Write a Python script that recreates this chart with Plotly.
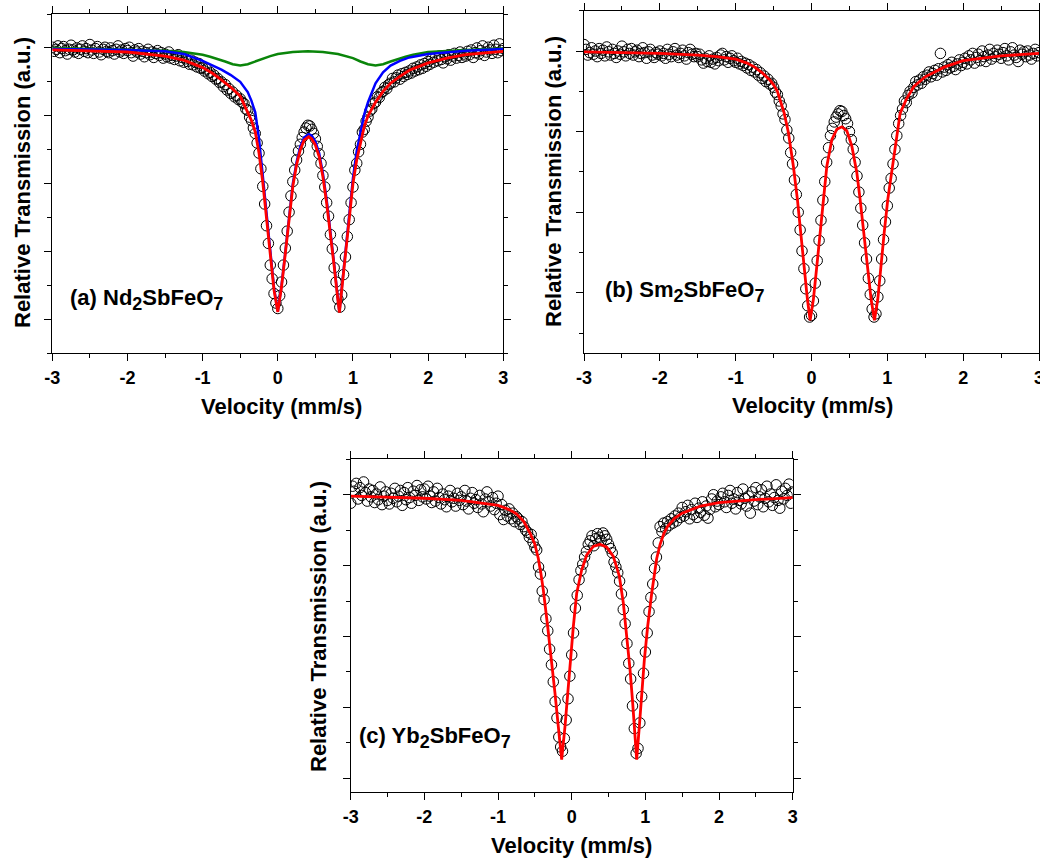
import numpy as np
import plotly.graph_objects as go

# ---------------- data (relative transmission, %) ----------------
velocity_step = 0.025   # mm/s per channel, first channel at -3 mm/s

nd_T = [
    100.01, 99.95, 99.98, 100.03, 99.93, 99.99, 100.02, 99.96, 99.91, 99.98, 100.04, 99.97, 99.94, 100.00, 99.92, 99.98, 100.03, 99.95, 99.99, 99.93,
    100.05, 99.97, 99.92, 99.99, 100.02, 99.94, 99.90, 99.98, 100.01, 99.95, 99.93, 100.00, 99.96, 99.91, 99.98, 100.03, 99.94, 99.97, 99.92, 99.99,
    99.96, 100.01, 99.93, 99.88, 99.97, 99.94, 99.99, 99.91, 99.95, 99.87, 99.93, 99.98, 99.90, 99.94, 99.86, 99.92, 99.96, 99.89, 99.93, 99.85,
    99.91, 99.87, 99.94, 99.85, 99.89, 99.83, 99.88, 99.90, 99.81, 99.86, 99.79, 99.84, 99.80, 99.76, 99.82, 99.75, 99.79, 99.72, 99.77, 99.70,
    99.71, 99.66, 99.69, 99.62, 99.64, 99.58, 99.60, 99.54, 99.55, 99.49, 99.50, 99.43, 99.46, 99.38, 99.40, 99.33, 99.35, 99.28, 99.30, 99.24,
    99.25, 99.20, 99.18, 99.10, 99.08, 98.98, 98.93, 98.82, 98.74, 98.60, 98.45, 98.22, 97.96, 97.70, 97.38, 97.12, 96.80, 96.60, 96.38, 96.24,
    96.16, 96.35, 96.55, 96.80, 97.05, 97.30, 97.58, 97.82, 98.03, 98.20, 98.35, 98.48, 98.58, 98.68, 98.76, 98.82, 98.86, 98.85, 98.80, 98.74,
    98.66, 98.55, 98.44, 98.30, 98.12, 97.95, 97.72, 97.52, 97.25, 97.04, 96.76, 96.55, 96.30, 96.18, 96.36, 96.66, 96.92, 97.22, 97.47, 97.72,
    97.95, 98.20, 98.30, 98.47, 98.58, 98.76, 98.80, 98.92, 98.98, 99.07, 99.10, 99.18, 99.20, 99.28, 99.27, 99.34, 99.36, 99.42, 99.40, 99.46,
    99.48, 99.55, 99.50, 99.56, 99.60, 99.54, 99.62, 99.58, 99.64, 99.61, 99.66, 99.63, 99.70, 99.66, 99.72, 99.68, 99.75, 99.70, 99.77, 99.73,
    99.80, 99.76, 99.84, 99.79, 99.86, 99.81, 99.88, 99.83, 99.78, 99.87, 99.84, 99.90, 99.82, 99.88, 99.92, 99.85, 99.89, 99.94, 99.86, 99.91,
    99.88, 99.95, 99.90, 99.97, 99.86, 99.93, 100.00, 99.91, 99.96, 100.03, 99.89, 99.94, 100.01, 99.97, 99.92, 100.04, 99.98, 99.93, 100.06, 99.96, 99.99,
]

sm_T = [
    100.08, 100.02, 99.95, 99.98, 100.04, 99.96, 100.00, 99.93, 100.03, 99.97, 100.01, 99.94, 100.05, 99.99, 99.95, 100.02, 99.97, 99.92, 100.00, 99.96,
    100.06, 99.99, 99.94, 100.02, 99.97, 100.03, 99.95, 99.99, 100.01, 99.93, 99.97, 100.04, 99.98, 99.91, 99.99, 100.02, 99.95, 99.92, 99.98, 99.96,
    100.00, 99.94, 99.97, 99.91, 100.02, 99.96, 99.93, 99.99, 100.03, 99.95, 99.92, 99.97, 100.01, 99.94, 99.90, 99.98, 100.02, 99.96, 99.93, 99.97,
    99.93, 99.96, 99.89, 99.85, 99.91, 99.87, 99.94, 99.86, 99.90, 99.84, 99.92, 99.88, 99.95, 99.97, 99.89, 99.93, 99.86, 99.91, 99.94, 99.88,
    99.86, 99.91, 99.84, 99.87, 99.82, 99.85, 99.79, 99.83, 99.76, 99.80, 99.74, 99.77, 99.70, 99.73, 99.66, 99.69, 99.62, 99.65, 99.59, 99.60,
    99.55, 99.49, 99.46, 99.38, 99.32, 99.22, 99.15, 99.02, 98.92, 98.74, 98.60, 98.40, 98.22, 98.00, 97.78, 97.52, 97.30, 97.05, 96.84, 96.70,
    96.72, 96.90, 97.12, 97.40, 97.65, 97.90, 98.15, 98.38, 98.62, 98.80, 98.95, 99.04, 99.12, 99.18, 99.22, 99.26, 99.25, 99.20, 99.16, 99.10,
    99.00, 98.90, 98.78, 98.62, 98.45, 98.25, 98.05, 97.84, 97.62, 97.42, 97.18, 96.98, 96.80, 96.70, 96.74, 96.95, 97.15, 97.42, 97.66, 97.88,
    98.08, 98.30, 98.42, 98.60, 98.78, 98.95, 99.10, 99.20, 99.28, 99.38, 99.36, 99.45, 99.50, 99.48, 99.55, 99.62, 99.58, 99.64, 99.60, 99.68,
    99.65, 99.70, 99.74, 99.68, 99.72, 99.76, 99.70, 99.78, 99.97, 99.74, 99.80, 99.76, 99.83, 99.79, 99.86, 99.81, 99.77, 99.84, 99.89, 99.82,
    99.86, 99.91, 99.84, 99.94, 99.89, 99.97, 99.85, 99.92, 99.96, 99.88, 100.00, 99.93, 99.87, 99.95, 100.02, 99.90, 99.97, 99.93, 100.01, 99.96,
    99.91, 99.98, 100.03, 99.94, 99.89, 99.99, 100.04, 99.95, 99.92, 99.87, 100.01, 99.96, 99.99, 99.93, 100.00, 99.95, 99.90, 99.97, 100.02, 99.94, 99.98,
]

yb_T = [
    99.88, 100.12, 100.05, 100.16, 99.94, 100.10, 99.99, 100.18, 100.03, 99.91, 100.08, 99.97, 100.06, 99.89, 100.01, 99.93, 100.11, 99.86, 99.98, 100.04,
    99.92, 99.87, 100.02, 99.95, 100.09, 99.90, 99.98, 100.06, 99.85, 100.03, 99.93, 100.10, 99.96, 99.88, 100.05, 99.99, 100.13, 99.92, 100.07, 99.97,
    100.08, 99.94, 100.12, 99.98, 99.89, 100.04, 99.91, 100.09, 99.96, 99.87, 100.01, 99.93, 99.83, 99.98, 100.06, 99.90, 99.95, 99.84, 100.02, 99.92,
    99.97, 99.86, 100.06, 99.91, 99.80, 99.95, 100.03, 99.88, 99.93, 99.82, 99.99, 99.87, 99.76, 99.94, 100.04, 99.90, 99.84, 99.96, 99.79, 99.88,
    99.98, 99.72, 99.86, 99.65, 99.78, 99.70, 99.80, 99.66, 99.74, 99.62, 99.69, 99.66, 99.58, 99.62, 99.55, 99.50, 99.47, 99.40, 99.44, 99.33,
    99.26, 99.22, 98.98, 98.88, 98.64, 98.52, 98.25, 98.08, 97.82, 97.60, 97.36, 97.08, 96.85, 96.58, 96.44, 96.38, 96.56, 96.82, 97.12, 97.44,
    97.74, 98.05, 98.40, 98.58, 98.80, 98.93, 99.02, 99.12, 99.20, 99.30, 99.35, 99.42, 99.28, 99.38, 99.45, 99.40, 99.35, 99.46, 99.42, 99.37,
    99.30, 99.24, 99.18, 99.05, 98.98, 98.90, 98.78, 98.60, 98.38, 98.18, 97.90, 97.62, 97.40, 97.02, 96.70, 96.35, 96.42, 96.78, 97.15, 97.48,
    97.78, 98.05, 98.35, 98.55, 98.74, 98.96, 99.12, 99.32, 99.55, 99.48, 99.60, 99.52, 99.62, 99.57, 99.66, 99.60, 99.70, 99.63, 99.74, 99.68,
    99.82, 99.70, 99.76, 99.85, 99.66, 99.79, 99.72, 99.88, 99.68, 99.81, 99.75, 99.90, 99.71, 99.84, 99.67, 99.79, 99.94, 100.00, 99.83, 99.91,
    99.86, 99.97, 100.02, 99.90, 99.82, 99.99, 100.06, 99.88, 99.94, 99.80, 100.03, 99.92, 99.87, 100.08, 99.95, 99.84, 99.98, 99.74, 100.04, 99.91,
    100.10, 99.86, 99.97, 100.07, 99.83, 99.95, 100.12, 99.90, 100.01, 99.85, 99.96, 100.14, 99.92, 99.81, 100.05, 99.94, 100.09, 99.99, 100.15, 99.88, 100.04,
]

# ---- fitted curves ----
nd_fit_v = [-3.0, -2.5, -2.0, -1.5, -1.25, -1.0, -0.875, -0.75, -0.625, -0.5, -0.4, -0.35, -0.3, -0.25, -0.2, -0.15, -0.1, -0.05,
            0.0, 0.05, 0.1, 0.15, 0.2, 0.25, 0.3, 0.35, 0.41, 0.45, 0.5, 0.55, 0.6, 0.65, 0.7, 0.75, 0.8, 0.82, 0.85, 0.9, 0.95,
            1.0, 1.05, 1.1, 1.15, 1.2, 1.3, 1.4, 1.5, 1.625, 1.75, 2.0, 2.25, 2.5, 3.0]
nd_total = [99.97, 99.96, 99.94, 99.88, 99.82, 99.71, 99.63, 99.53, 99.42, 99.29, 99.06, 98.93, 98.76, 98.45, 98.02, 97.47, 96.88, 96.43,
            96.11, 96.48, 96.97, 97.51, 97.96, 98.28, 98.50, 98.64, 98.69, 98.66, 98.57, 98.40, 98.10, 97.71, 97.27, 96.78, 96.28, 96.10, 96.43, 96.97, 97.51,
            98.00, 98.35, 98.62, 98.84, 99.00, 99.20, 99.36, 99.48, 99.58, 99.67, 99.78, 99.85, 99.90, 99.95]
nd_site1 = [99.985, 99.98, 99.97, 99.95, 99.91, 99.81, 99.75, 99.68, 99.60, 99.50, 99.35, 99.22, 99.05, 98.66, 98.12, 97.55, 96.93, 96.46,
            96.12, 96.50, 96.99, 97.54, 98.00, 98.32, 98.55, 98.68, 98.73, 98.71, 98.62, 98.45, 98.15, 97.76, 97.31, 96.81, 96.30, 96.11, 96.45, 97.00, 97.56,
            98.08, 98.48, 98.78, 99.02, 99.20, 99.48, 99.64, 99.74, 99.81, 99.86, 99.91, 99.94, 99.96, 99.985]
nd_site2_v = [-3.0, -2.5, -2.0, -1.5, -1.25, -1.0, -0.9, -0.8, -0.7, -0.6, -0.5, -0.4, -0.3, -0.2, -0.1, 0.0, 0.2, 0.4, 0.6, 0.8,
              0.9, 1.0, 1.1, 1.2, 1.3, 1.4, 1.5, 1.6, 1.7, 1.8, 2.0, 2.5, 3.0]
nd_site2 = [100.00, 99.99, 99.98, 99.96, 99.94, 99.90, 99.87, 99.84, 99.80, 99.76, 99.74, 99.76, 99.80, 99.85, 99.88, 99.91, 99.94, 99.95, 99.94, 99.91,
            99.88, 99.85, 99.80, 99.76, 99.74, 99.76, 99.80, 99.84, 99.87, 99.90, 99.94, 99.97, 99.99]

sm_fit_v = [-3.0, -2.5, -2.0, -1.5, -1.25, -1.0, -0.85, -0.75, -0.65, -0.55, -0.5, -0.45, -0.414, -0.36, -0.305, -0.239, -0.186, -0.142, -0.098, -0.054,
            -0.018, 0.025, 0.07, 0.114, 0.157, 0.202, 0.268, 0.334, 0.40, 0.466, 0.532, 0.598, 0.641, 0.694, 0.738, 0.786, 0.83, 0.874, 0.914, 0.958,
            1.006, 1.067, 1.125, 1.169, 1.25, 1.35, 1.5, 1.75, 2.0, 2.5, 3.0]
sm_fit = [99.99, 99.98, 99.97, 99.95, 99.93, 99.90, 99.85, 99.80, 99.73, 99.64, 99.58, 99.50, 99.40, 99.23, 98.99, 98.57, 98.16, 97.74, 97.33, 96.92,
          96.66, 96.92, 97.33, 97.74, 98.16, 98.57, 98.90, 99.03, 99.06, 99.01, 98.82, 98.49, 98.16, 97.74, 97.33, 96.92, 96.66, 96.92, 97.33, 97.74,
          98.16, 98.57, 98.99, 99.23, 99.40, 99.56, 99.68, 99.80, 99.88, 99.94, 99.97]

yb_fit_v = [-3.0, -2.5, -2.0, -1.5, -1.25, -1.0, -0.85, -0.75, -0.65, -0.566, -0.5, -0.453, -0.42, -0.386, -0.326, -0.272, -0.227, -0.182, -0.136,
            -0.091, -0.054, -0.014, 0.022, 0.068, 0.136, 0.204, 0.293, 0.384, 0.475, 0.565, 0.647, 0.701, 0.747, 0.792, 0.828, 0.859, 0.882,
            0.918, 0.950, 0.986, 1.031, 1.086, 1.154, 1.2, 1.25, 1.3, 1.4, 1.5, 1.75, 2.0, 2.5, 3.0]
yb_fit = [99.98, 99.97, 99.95, 99.92, 99.89, 99.85, 99.79, 99.73, 99.62, 99.46, 99.30, 99.10, 98.90, 98.66, 98.14, 97.67, 97.20, 96.73, 96.26,
          96.73, 97.20, 97.67, 98.14, 98.61, 98.94, 99.15, 99.27, 99.30, 99.26, 99.13, 98.85, 98.47, 98.00, 97.53, 97.06, 96.63, 96.26,
          96.73, 97.20, 97.67, 98.14, 98.61, 99.10, 99.30, 99.45, 99.55, 99.67, 99.74, 99.84, 99.89, 99.93, 99.96]

x_tick_vals = [-3, -2, -1, 0, 1, 2, 3]
x_tick_text = ["-3", "-2", "-1", "0", "1", "2", "3"]
x_minor_vals = [-2.5, -1.5, -0.5, 0.5, 1.5, 2.5]

SUB = '<sub><span style="font-size:18px">{}</span></sub>'
panel_labels = ["(a) Nd" + SUB.format("2") + "SbFeO" + SUB.format("7"),
                "(b) Sm" + SUB.format("2") + "SbFeO" + SUB.format("7"),
                "(c) Yb" + SUB.format("2") + "SbFeO" + SUB.format("7")]
x_title = "Velocity (mm/s)"
y_title = "Relative Transmission (a.u.)"

# ---------------- figure ----------------
W, H = 1040, 858
FONT = "Liberation Sans, Arial, sans-serif"

def dx(l, r):
    return [l / W, r / W]

def dy(t, b):
    return [1 - b / H, 1 - t / H]

def vel(T):
    return np.round(-3 + velocity_step * np.arange(len(T)), 4)

fig = go.Figure()

marker = dict(symbol="circle-open", size=10.5, color="black", line=dict(width=1.0, color="black"))

# panel a
fig.add_trace(go.Scatter(x=vel(nd_T), y=nd_T, mode="markers", marker=marker, xaxis="x", yaxis="y", showlegend=False))
fig.add_trace(go.Scatter(x=nd_site2_v, y=nd_site2, mode="lines", line=dict(color="#0a850a", width=2.5), xaxis="x", yaxis="y", showlegend=False))
fig.add_trace(go.Scatter(x=nd_fit_v, y=nd_site1, mode="lines", line=dict(color="#0000ff", width=2.5), xaxis="x", yaxis="y", showlegend=False))
fig.add_trace(go.Scatter(x=nd_fit_v, y=nd_total, mode="lines", line=dict(color="#ff0000", width=2.8), xaxis="x", yaxis="y", showlegend=False))
# panel b
fig.add_trace(go.Scatter(x=vel(sm_T), y=sm_T, mode="markers", marker=marker, xaxis="x2", yaxis="y2", showlegend=False))
fig.add_trace(go.Scatter(x=sm_fit_v, y=sm_fit, mode="lines", line=dict(color="#ff0000", width=2.8), xaxis="x2", yaxis="y2", showlegend=False))
# panel c
fig.add_trace(go.Scatter(x=vel(yb_T), y=yb_T, mode="markers", marker=marker, xaxis="x3", yaxis="y3", showlegend=False))
fig.add_trace(go.Scatter(x=yb_fit_v, y=yb_fit, mode="lines", line=dict(color="#ff0000", width=2.8), xaxis="x3", yaxis="y3", showlegend=False))

common = dict(showline=True, linecolor="black", linewidth=1.3, mirror="allticks", ticks="outside",
              ticklen=7, tickwidth=1.2, tickcolor="black", showgrid=False, zeroline=False, automargin=False)

def xax(domain, anchor):
    return dict(common, domain=domain, anchor=anchor, range=[-3, 3], tickmode="array",
                tickvals=x_tick_vals, ticktext=x_tick_text, ticklabelstandoff=1, ticklabeloverflow="allow",
                tickfont=dict(family=FONT, size=18, color="black", weight="bold"),
                minor=dict(tickmode="array", tickvals=x_minor_vals, ticks="outside", ticklen=4,
                           tickwidth=1.2, tickcolor="black", showgrid=False))

def yax(domain, anchor, rng):
    return dict(common, domain=domain, anchor=anchor, range=rng, tickmode="linear", tick0=0, dtick=1,
                showticklabels=False,
                minor=dict(tickmode="linear", tick0=0, dtick=0.5, ticks="outside", ticklen=4,
                           tickwidth=1.2, tickcolor="black", showgrid=False))

fig.update_layout(
    template="none",
    width=W, height=H, margin=dict(l=0, r=0, t=0, b=0, pad=0), autosize=False,
    paper_bgcolor="white", plot_bgcolor="white",
    xaxis=xax(dx(52.3, 503.3), "y"),
    yaxis=yax(dy(14, 353.3), "x", [95.5, 100.5]),
    xaxis2=xax(dx(584, 1039), "y2"),
    yaxis2=yax(dy(10.7, 353.3), "x2", [96.25, 100.5]),
    xaxis3=xax(dx(350.7, 792.7), "y3"),
    yaxis3=yax(dy(459.3, 792.3), "x3", [95.8, 100.5]),
)

ann = []
label_pos = [(68, 300), (603, 291), (357, 737)]
for txt, (x, y) in zip(panel_labels, label_pos):
    ann.append(dict(text=txt, xref="paper", yref="paper", x=x / W, y=1 - y / H, xanchor="left", yanchor="middle",
                    showarrow=False, font=dict(family=FONT, size=22, color="black", weight="bold")))
for (x, y) in [(281, 406), (812, 405), (571, 845)]:
    ann.append(dict(text=x_title, xref="paper", yref="paper", x=x / W, y=1 - y / H, xanchor="center", yanchor="middle",
                    showarrow=False, font=dict(family=FONT, size=22, color="black", weight="bold")))
for (x, y) in [(22, 183), (553, 182), (318, 627)]:
    ann.append(dict(text=y_title, xref="paper", yref="paper", x=x / W, y=1 - y / H, xanchor="center", yanchor="middle",
                    textangle=-90, showarrow=False, font=dict(family=FONT, size=22, color="black", weight="bold")))
fig.update_layout(annotations=ann)

fig.write_html("out.html",
               config={"displayModeBar": False},
               post_script="document.body.style.margin='0px';document.body.style.padding='0px';"
                           "document.body.style.overflow='hidden';")
